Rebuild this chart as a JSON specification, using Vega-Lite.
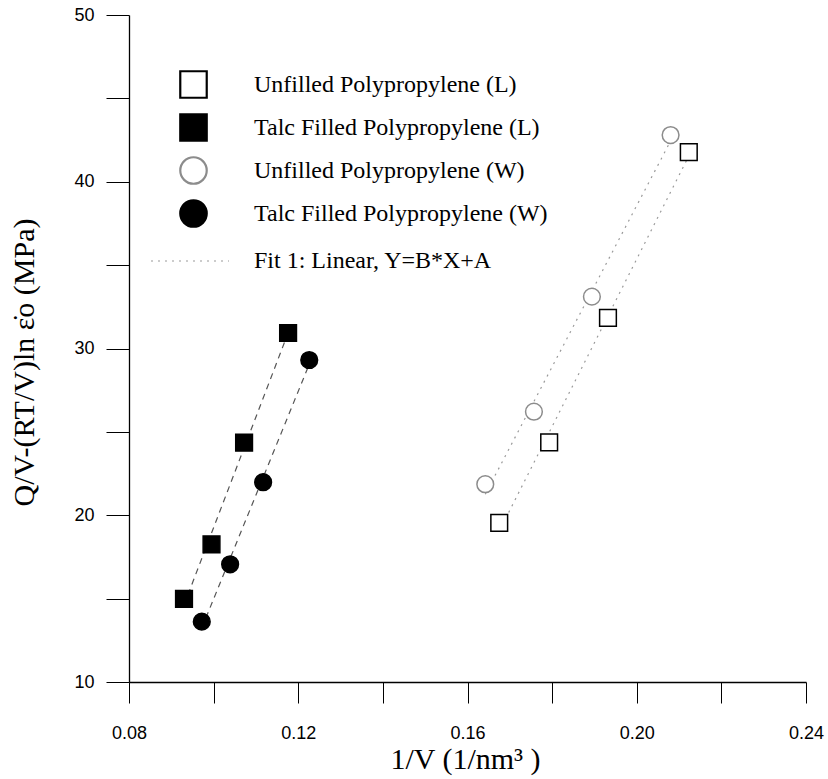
{
  "$schema": "https://vega.github.io/schema/vega-lite/v6.json",
  "autosize": {"type": "none"},
  "padding": {"left": 129, "top": 15, "right": 22, "bottom": 97},
  "width": 677,
  "height": 667,
  "background": "white",
  "config": {"view": {"stroke": null}},
  "data": {
    "values": [
      {"series": "Unfilled Polypropylene (L)", "x": 0.1675, "y": 19.54},
      {"series": "Unfilled Polypropylene (L)", "x": 0.1793, "y": 24.37},
      {"series": "Unfilled Polypropylene (L)", "x": 0.1932, "y": 31.83},
      {"series": "Unfilled Polypropylene (L)", "x": 0.2123, "y": 41.77},
      {"series": "Talc Filled Polypropylene (L)", "x": 0.0930, "y": 14.98},
      {"series": "Talc Filled Polypropylene (L)", "x": 0.0995, "y": 18.26},
      {"series": "Talc Filled Polypropylene (L)", "x": 0.1072, "y": 24.35},
      {"series": "Talc Filled Polypropylene (L)", "x": 0.1176, "y": 30.93},
      {"series": "Unfilled Polypropylene (W)", "x": 0.1642, "y": 21.86},
      {"series": "Unfilled Polypropylene (W)", "x": 0.1757, "y": 26.21},
      {"series": "Unfilled Polypropylene (W)", "x": 0.1894, "y": 33.11},
      {"series": "Unfilled Polypropylene (W)", "x": 0.2080, "y": 42.80},
      {"series": "Talc Filled Polypropylene (W)", "x": 0.0972, "y": 13.62},
      {"series": "Talc Filled Polypropylene (W)", "x": 0.1039, "y": 17.06},
      {"series": "Talc Filled Polypropylene (W)", "x": 0.1117, "y": 21.98},
      {"series": "Talc Filled Polypropylene (W)", "x": 0.1226, "y": 29.31}
    ]
  },
  "encoding": {
    "x": {
      "field": "x", "type": "quantitative",
      "scale": {"domain": [0.08, 0.24], "nice": false, "zero": false},
      "axis": {
        "values": [0.08, 0.10, 0.12, 0.14, 0.16, 0.18, 0.20, 0.22, 0.24],
        "format": ".2f",
        "labelExpr": "round(datum.value*100) % 4 === 0 ? datum.label : ''",
        "tickSize": 21,
        "labelPadding": 21,
        "encoding": {"ticks": {"update": {"y2": {"signal": "round(datum.value*100) % 4 === 0 ? 21 : 11"}}}},
        "grid": false,
        "domainColor": "black", "domainWidth": 1.3,
        "tickColor": "black", "tickWidth": 1,
        "labelFont": "Liberation Sans", "labelFontSize": 18, "labelColor": "black",
        "labelFlush": false,
        "title": "1/V (1/nm³ )",
        "titleFont": "Liberation Serif", "titleFontSize": 30, "titleFontWeight": "normal", "titleColor": "black",
        "titleBaseline": "alphabetic", "titleY": 86, "titleX": 336
      }
    },
    "y": {
      "field": "y", "type": "quantitative",
      "scale": {"domain": [10, 50], "nice": false, "zero": false},
      "axis": {
        "values": [10, 15, 20, 25, 30, 35, 40, 45, 50],
        "labelExpr": "datum.value % 10 === 0 ? datum.label : ''",
        "tickSize": 23,
        "labelPadding": 12,
        "encoding": {"ticks": {"update": {"x2": {"signal": "datum.value % 10 === 0 ? -23 : -12"}}}},
        "grid": false,
        "domainColor": "black", "domainWidth": 1.3,
        "tickColor": "black", "tickWidth": 1,
        "labelFont": "Liberation Sans", "labelFontSize": 18, "labelColor": "black",
        "labelFlush": false,
        "title": "Q/V-(RT/V)ln ε̇o (MPa)",
        "titleFont": "Liberation Serif", "titleFontSize": 30, "titleFontWeight": "normal", "titleColor": "black",
        "titleBaseline": "alphabetic", "titleX": -96, "titleY": 347, "titleAngle": -90
      }
    }
  },
  "layer": [
    {
      "transform": [
        {"filter": "indexof(datum.series, 'Talc') === 0"},
        {"regression": "y", "on": "x", "groupby": ["series"]}
      ],
      "mark": {"type": "line", "color": "#555555", "strokeWidth": 1.2, "strokeDash": [6, 5]},
      "encoding": {"detail": {"field": "series"}}
    },
    {
      "transform": [
        {"filter": "indexof(datum.series, 'Unfilled') === 0"},
        {"regression": "y", "on": "x", "groupby": ["series"]}
      ],
      "mark": {"type": "line", "color": "#9a9a9a", "strokeWidth": 1.2},
      "encoding": {
        "detail": {"field": "series"},
        "strokeDash": {
          "datum": "Fit 1: Linear, Y=B*X+A",
          "scale": {"range": [[2, 5]]},
          "legend": {
            "title": null, "orient": "none", "legendX": 21, "legendY": 206,
            "padding": 0, "symbolSize": 6084, "symbolStrokeColor": "#9a9a9a", "symbolStrokeWidth": 1.2,
            "labelOffset": 24, "labelFont": "Liberation Serif", "labelFontSize": 24, "labelColor": "black", "labelLimit": 500
          }
        }
      }
    },
    {
      "mark": {"type": "point", "size": 280, "strokeWidth": 1.5, "opacity": 1},
      "encoding": {
        "shape": {
          "field": "series", "type": "nominal",
          "scale": {
            "domain": ["Unfilled Polypropylene (L)", "Talc Filled Polypropylene (L)", "Unfilled Polypropylene (W)", "Talc Filled Polypropylene (W)"],
            "range": ["square", "square", "circle", "circle"]
          },
          "legend": {
            "title": null, "orient": "none", "legendX": 50, "legendY": 55,
            "padding": 0, "symbolSize": 700, "symbolStrokeWidth": 2.2, "rowPadding": 6,
            "labelOffset": 46, "labelFont": "Liberation Serif", "labelFontSize": 24, "labelColor": "black", "labelLimit": 500
          }
        },
        "fill": {
          "field": "series", "type": "nominal",
          "scale": {
            "domain": ["Unfilled Polypropylene (L)", "Talc Filled Polypropylene (L)", "Unfilled Polypropylene (W)", "Talc Filled Polypropylene (W)"],
            "range": ["white", "black", "white", "black"]
          },
          "legend": {
            "title": null, "orient": "none", "legendX": 50, "legendY": 55,
            "padding": 0, "symbolSize": 700, "symbolStrokeWidth": 2.2, "rowPadding": 6,
            "labelOffset": 46, "labelFont": "Liberation Serif", "labelFontSize": 24, "labelColor": "black", "labelLimit": 500
          }
        },
        "stroke": {
          "field": "series", "type": "nominal",
          "scale": {
            "domain": ["Unfilled Polypropylene (L)", "Talc Filled Polypropylene (L)", "Unfilled Polypropylene (W)", "Talc Filled Polypropylene (W)"],
            "range": ["black", "black", "#8c8c8c", "black"]
          },
          "legend": {
            "title": null, "orient": "none", "legendX": 50, "legendY": 55,
            "padding": 0, "symbolSize": 700, "symbolStrokeWidth": 2.2, "rowPadding": 6,
            "labelOffset": 46, "labelFont": "Liberation Serif", "labelFontSize": 24, "labelColor": "black", "labelLimit": 500
          }
        }
      }
    }
  ]
}
